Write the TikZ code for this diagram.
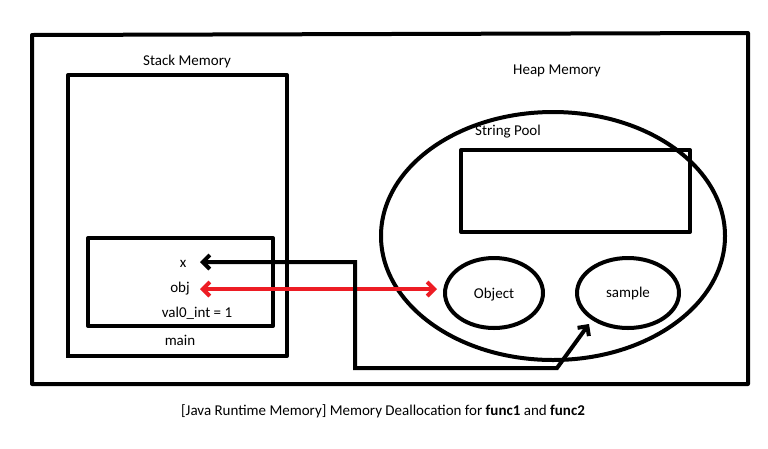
\documentclass[tikz,border=0pt]{standalone}
\usepackage{fontspec}
\setmainfont{Carlito}
\usetikzlibrary{arrows.meta}
\definecolor{paintred}{RGB}{237,28,36}
\begin{document}
\begin{tikzpicture}[x=1pt,y=-1pt,
  thick line/.style={line width=4pt, line join=round},
  lbl/.style={font=\fontsize{15}{18}\selectfont, inner sep=0pt},
  >={Straight Barb[length=7pt,width=14pt,line width=4pt]}]
\useasboundingbox (0,0) rectangle (768,448);
\fill[white] (0,0) rectangle (768,448);
% outer frame
\draw[thick line] (32,35) -- (748,33) -- (748,384) -- (32,384) -- cycle;
% stack
\node[lbl] (stacklbl) at (187,61) {Stack Memory};
\draw[thick line] (68,356) -- (68,75) -- (287,75) -- (287,356) -- (66,356);
\draw[thick line] (88,238) rectangle (273,326);
\node[lbl] (x) at (183,264) {x};
\node[lbl] (obj) at (180,289) {obj};
\node[lbl] (val) at (197,313) {val0\_int = 1};
\node[lbl] (main) at (180,340) {main};
% heap
\node[lbl] (heaplbl) at (557,71) {Heap Memory};
\draw[thick line] (553,236) ellipse [x radius=172, y radius=124];
\node[lbl] (poollbl) at (508,132) {String Pool};
\draw[thick line] (461,150) rectangle (690,232);
\draw[thick line] (494,293) ellipse [x radius=49, y radius=35];
\node[lbl] (object) at (494,295) {Object};
\draw[thick line] (628,293) ellipse [x radius=51, y radius=35];
\node[lbl] (sample) at (628,293) {sample};
% red arrow
\coordinate (r1) at (200,289);
\coordinate (r2) at (437,289);
\draw[line width=4pt, paintred, <->, line cap=round] (r1) -- (r2);
% black path
\coordinate (b0) at (355,368);
\coordinate (b1) at (557,368);
\coordinate (b2) at (589,324);
\coordinate (bx) at (200,262);
\draw[line width=4pt, line join=miter, <->, line cap=round] (bx) -- (355,262) -- (b0) -- (b1) -- (b2);
% caption
\node[lbl] (caption) at (383,411) {[Java Runtime Memory] Memory Deallocation for \textbf{func1} and \textbf{func2}};
\end{tikzpicture}
\end{document}
